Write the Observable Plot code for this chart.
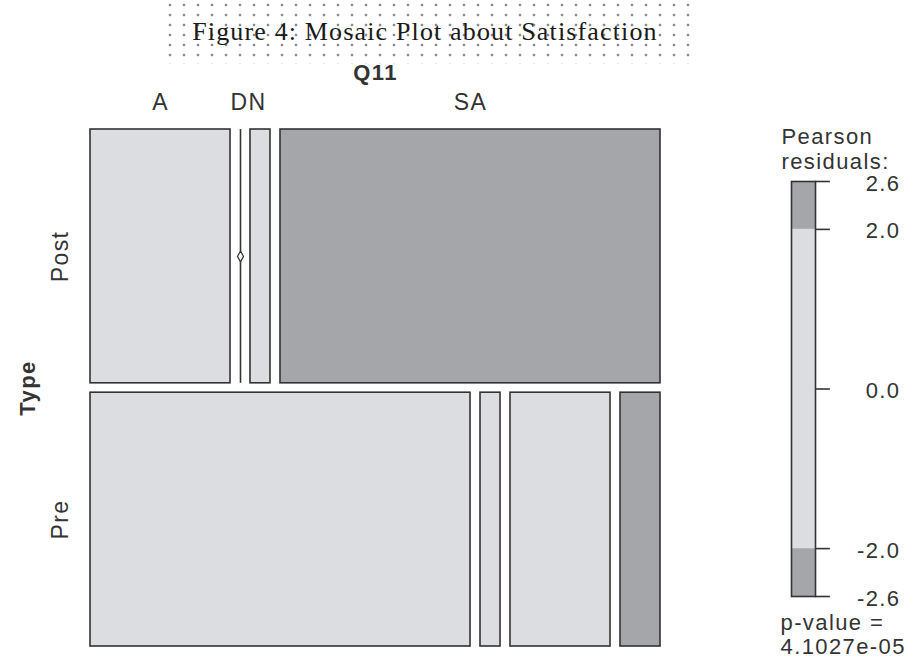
<!DOCTYPE html>
<html>
<head>
<meta charset="utf-8">
<script src="https://cdn.jsdelivr.net/npm/d3@7"></script>
<script src="https://cdn.jsdelivr.net/npm/@observablehq/plot@0.6"></script>
<style>
  html, body { margin: 0; padding: 0; background: #fff; }
  #chart { position: relative; width: 921px; height: 662px; overflow: hidden; background: #fff; }
  #title {
    position: absolute; left: 160px; top: 0px; width: 530px; height: 64px;
    background-image: radial-gradient(circle, #8a8a8a 1.1px, rgba(255,255,255,0) 1.7px);
    background-size: 14px 10px; background-position: 3px 0px;
    font-family: "Liberation Serif", "Times New Roman", serif; font-size: 26px; color: #1a1a1a;
    letter-spacing: 1.15px; text-align: center; line-height: 64px;
  }
  svg text { letter-spacing: 1.4px; }
</style>
</head>
<body>
<div id="chart"><div id="title"><span>Figure 4: Mosaic Plot about Satisfaction</span></div></div>
<script>
// ---- data ----
const typeLevels = ["Post", "Pre"];
const q11Levels = ["A", "D", "DN", "SA"];
const postCounts = [7, 0, 1, 19];
const preCounts = [19, 1, 5, 2];
const topLabels = ["A", "DN", "SA"];
const legendTicks = [2.6, 2.0, 0.0, -2.0, -2.6];
const shadeCut = 2.0;
const legendMax = 2.6;
const pValueText = "p-value =\n4.1027e-05";
const xVarName = "Q11";
const yVarName = "Type";

const light = "#dcdde0";
const dark = "#a5a6aa";
const ink = "#333333";

// ---- mosaic layout ----
const counts = [postCounts, preCounts];
const gap = 0.0185;
const rowTotals = counts.map(r => d3.sum(r));
const colTotals = q11Levels.map((_, j) => d3.sum(counts, r => r[j]));
const N = d3.sum(rowTotals);
const cells = [];
let yCum = 0;
counts.forEach((row, i) => {
  const h = rowTotals[i] / N;
  let xCum = 0;
  row.forEach((c, j) => {
    const w = c / rowTotals[i];
    const expected = rowTotals[i] * colTotals[j] / N;
    cells.push({
      type: typeLevels[i], cat: q11Levels[j], count: c,
      x1: xCum + j * gap, x2: xCum + w + j * gap,
      y1: yCum + i * gap, y2: yCum + h + i * gap,
      r: (c - expected) / Math.sqrt(expected)
    });
    xCum += w;
  });
  yCum += h;
});
const xMax = 1 + (q11Levels.length - 1) * gap;
const yMax = 1 + (typeLevels.length - 1) * gap;
const filled = cells.filter(d => d.count > 0);
const zeros = cells.filter(d => d.count === 0);
const topCells = topLabels.map(l => cells.find(d => d.type === typeLevels[0] && d.cat === l));
const rowCells = typeLevels.map(t => cells.find(d => d.type === t));

const font = "Liberation Sans, Arial, Helvetica, sans-serif";

const main = Plot.plot({
  width: 700, height: 662,
  marginLeft: 90, marginRight: 40, marginTop: 129, marginBottom: 16,
  x: { domain: [0, xMax], axis: null },
  y: { domain: [0, yMax], reverse: true, axis: null },
  color: { type: "identity" },
  style: { fontFamily: font, color: ink, background: "transparent", overflow: "visible" },
  marks: [
    Plot.rect(filled, {
      x1: "x1", x2: "x2", y1: "y1", y2: "y2",
      fill: d => Math.abs(d.r) > shadeCut ? dark : light,
      stroke: ink, strokeWidth: 1.6
    }),
    Plot.ruleX(zeros, { x: "x1", y1: "y1", y2: "y2", stroke: ink, strokeWidth: 1.6 }),
    Plot.dot(zeros, { x: "x1", y: d => (d.y1 + d.y2) / 2, r: 3.2, symbol: "diamond", fill: "white", stroke: ink, strokeWidth: 1.2 }),
    Plot.text(topCells.filter(d => d.cat !== "DN"), {
      x: d => (d.x1 + d.x2) / 2, y: () => 0, text: d => d.cat,
      dy: -27, fontSize: 23, fill: "#333"
    }),
    Plot.text(topCells.filter(d => d.cat === "DN"), {
      x: d => (d.x1 + d.x2) / 2, y: () => 0, text: d => d.cat,
      dy: -27, dx: -12, fontSize: 23, fill: "#333"
    }),
    Plot.text([xVarName], { x: () => xMax / 2, y: () => 0, text: d => d, dy: -57, fontSize: 22, fontWeight: "bold", fill: "#333" }),
    Plot.text(rowCells, {
      x: () => 0, y: d => (d.y1 + d.y2) / 2, text: d => d.type,
      rotate: -90, dx: -30, fontSize: 23, fill: "#333"
    }),
    Plot.text([yVarName], { x: () => 0, y: () => yMax / 2, text: d => d, rotate: -90, dx: -63, fontSize: 22, fontWeight: "bold", fill: "#333" })
  ]
});
main.style.position = "absolute";
main.style.left = "0px";
main.style.top = "0px";

// ---- legend ----
const bands = [
  { lo: -legendMax, hi: -shadeCut, fill: dark },
  { lo: -shadeCut, hi: shadeCut, fill: light },
  { lo: shadeCut, hi: legendMax, fill: dark }
];
const legend = Plot.plot({
  width: 221, height: 662,
  marginLeft: 91, marginRight: 106, marginTop: 181, marginBottom: 66,
  x: { domain: [0, 1], axis: null },
  y: { domain: [-legendMax, legendMax], axis: null },
  color: { type: "identity" },
  style: { fontFamily: font, color: ink, background: "transparent" },
  marks: [
    Plot.rect(bands, { x1: 0, x2: 1, y1: "lo", y2: "hi", fill: "fill" }),
    Plot.frame({ stroke: ink, strokeWidth: 1.6 }),
    Plot.ruleY(legendTicks, { y: d => d, x1: 1, x2: 1.62, stroke: ink, strokeWidth: 1.6 }),
    Plot.text(legendTicks, { x: () => 1, y: d => d, text: d => d.toFixed(1), dx: 85, dy: 2, textAnchor: "end", fontSize: 22, fill: "#333" }),
    Plot.text(["Pearson\nresiduals:"], { frameAnchor: "top-left", text: d => d, textAnchor: "start", lineAnchor: "bottom", dx: -10, dy: -13, fontSize: 22, lineHeight: 1.13, fill: "#333" }),
    Plot.text([pValueText], { frameAnchor: "bottom-left", text: d => d, textAnchor: "start", lineAnchor: "top", dx: -11, dy: 17, fontSize: 22, lineHeight: 1.08, fill: "#333" })
  ]
});
legend.style.position = "absolute";
legend.style.left = "700px";
legend.style.top = "0px";

const chart = document.getElementById("chart");
chart.appendChild(main);
chart.appendChild(legend);
</script>
</body>
</html>
